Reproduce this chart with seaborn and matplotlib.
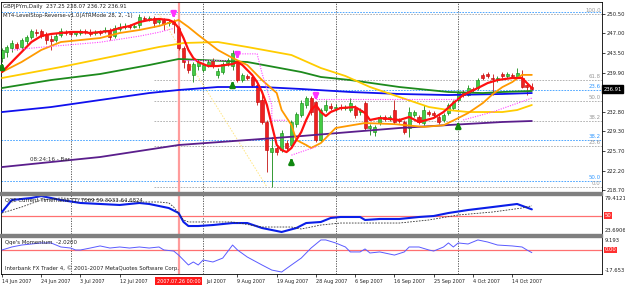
import matplotlib
matplotlib.use('Agg')
import matplotlib.pyplot as plt
import matplotlib.transforms as mtransforms
from matplotlib.patches import Rectangle
import pandas as pd
import seaborn as sns

sns.set_theme(style='white')
plt.rcParams['font.family'] = ['DejaVu Sans']

# ---- OHLC (GBPJPYm, Daily), bars 0..108 ----
opens = [242.55, 243.63, 244.36, 245.08, 244.54, 245.62, 246.34, 247.25, 247.43, 246.71,
         245.98, 245.80, 246.71, 247.25, 247.07, 246.89, 247.07, 247.43, 247.25, 247.07,
         247.25, 247.43, 247.61, 246.52, 247.79, 248.15, 248.33, 248.15, 248.51, 249.78,
         249.60, 249.78, 249.05, 249.42, 248.87, 249.24, 247.97, 244.36, 241.46, 239.48,
         241.10, 240.38, 241.28, 242.19, 239.48, 240.02, 241.65, 241.10, 241.83, 238.57,
         239.30, 239.12, 237.67, 234.96, 230.99, 225.56, 226.29, 225.93, 227.19, 226.83,
         230.62, 232.25, 234.06, 235.32, 234.60, 227.73, 233.15, 233.88, 233.51, 233.69,
         233.51, 233.15, 233.51, 232.79, 234.42, 229.90, 229.18, 230.80, 231.89, 231.53,
         233.15, 231.35, 230.99, 229.90, 232.25, 231.89, 230.80, 232.79, 232.61, 231.89,
         231.35, 232.61, 233.51, 234.96, 236.41, 235.86, 236.95, 237.13, 239.48, 239.66,
         238.94, 238.57, 239.66, 239.30, 239.48, 239.12, 238.94, 237.67, 237.25]
closes = [244.00, 244.54, 245.26, 244.36, 245.80, 246.34, 247.43, 247.07, 246.52, 245.80,
          245.62, 246.52, 247.43, 247.07, 246.89, 247.25, 247.43, 247.25, 246.89, 247.25,
          247.07, 247.61, 246.34, 247.97, 248.15, 248.33, 248.15, 248.33, 249.96, 249.60,
          249.78, 248.87, 249.42, 248.69, 249.05, 248.69, 244.36, 241.83, 240.38, 241.46,
          241.83, 241.28, 241.83, 241.10, 240.20, 241.46, 242.19, 243.45, 238.57, 239.48,
          238.94, 237.67, 234.60, 230.99, 225.93, 226.29, 225.56, 229.00, 226.29, 230.99,
          232.43, 234.42, 235.32, 232.79, 227.73, 233.15, 234.06, 233.51, 233.69, 233.51,
          233.69, 234.42, 232.25, 233.15, 229.90, 230.26, 230.08, 231.89, 231.53, 231.89,
          230.99, 231.17, 229.18, 232.79, 232.79, 230.99, 233.15, 232.43, 232.25, 230.99,
          232.25, 234.06, 234.60, 236.41, 235.86, 237.13, 236.77, 238.57, 238.94, 239.30,
          238.75, 238.94, 239.30, 239.66, 239.30, 239.84, 237.31, 237.31, 236.91]
highs = [244.36, 244.90, 245.80, 245.44, 246.16, 246.71, 247.79, 247.79, 247.79, 247.25,
         246.71, 247.07, 247.97, 247.61, 247.43, 247.43, 247.79, 247.79, 247.79, 247.61,
         247.61, 248.15, 247.97, 248.51, 248.87, 248.87, 248.69, 248.69, 250.50, 250.14,
         250.14, 250.14, 249.78, 249.78, 249.42, 249.60, 248.33, 244.72, 242.19, 241.83,
         242.19, 241.65, 242.19, 242.55, 240.74, 241.83, 242.55, 244.00, 242.01, 239.84,
         239.66, 239.48, 238.03, 236.41, 231.35, 228.27, 226.83, 229.54, 227.73, 231.35,
         232.79, 234.96, 235.68, 235.68, 234.78, 233.51, 234.96, 234.42, 234.24, 234.24,
         234.06, 235.32, 234.06, 233.51, 234.78, 230.62, 230.44, 232.25, 232.25, 232.25,
         234.96, 231.71, 231.35, 233.69, 233.15, 232.25, 234.06, 233.15, 232.97, 232.43,
         232.61, 234.42, 234.96, 236.77, 236.77, 237.67, 237.31, 238.94, 239.84, 240.02,
         239.66, 239.30, 240.02, 240.02, 239.84, 240.74, 240.38, 238.03, 238.07]
lows = [241.83, 242.73, 243.63, 244.00, 244.18, 245.08, 245.98, 246.52, 246.16, 245.08,
        244.00, 245.44, 246.34, 246.71, 246.52, 246.52, 246.71, 246.89, 246.52, 246.71,
        246.71, 247.07, 245.80, 246.16, 247.43, 247.79, 247.79, 247.97, 247.97, 249.24,
        249.24, 248.15, 248.69, 247.61, 248.33, 247.07, 244.00, 240.74, 239.84, 238.21,
        240.38, 240.02, 240.92, 240.74, 238.94, 239.66, 241.10, 240.38, 238.21, 238.21,
        238.57, 237.31, 234.06, 230.62, 221.95, 219.24, 225.02, 225.56, 225.93, 226.29,
        230.08, 231.89, 233.51, 232.25, 227.37, 227.37, 232.79, 233.15, 232.97, 233.15,
        233.15, 232.79, 231.71, 232.25, 229.54, 228.64, 228.45, 230.44, 231.17, 231.17,
        230.62, 230.80, 228.82, 228.27, 231.89, 230.62, 230.44, 232.07, 231.89, 230.62,
        230.99, 232.25, 233.15, 234.60, 235.50, 235.68, 236.41, 236.77, 238.57, 238.94,
        235.86, 238.21, 238.94, 238.94, 238.94, 238.94, 237.13, 235.86, 236.72]
bars = list(range(len(closes)))

# ---- indicator lines on the price panel (bar, price) ----
red_bar = [0, 2, 4, 6, 8, 10, 12, 14, 16, 18, 20, 22, 24, 26, 28, 30, 32, 34, 35, 36, 37, 38, 39,
           40, 42, 44, 47, 48, 49, 50, 51, 52, 53, 54, 55, 56, 57, 58, 59, 60, 61, 62, 63, 64,
           65, 66, 67, 69, 72, 74, 75, 77, 81, 83, 85, 88, 90, 92, 94, 97, 99, 101, 104, 106, 107, 108]
red_val = [240.02, 241.83, 243.63, 245.44, 246.53, 246.89, 247.07, 247.25, 247.25, 247.07,
           247.25, 247.43, 247.97, 248.33, 249.05, 249.42, 249.60, 249.42, 249.05, 247.97,
           246.16, 244.00, 242.55, 241.83, 241.10, 241.10, 241.46, 241.83, 241.28, 240.38,
           239.48, 238.21, 236.41, 234.06, 230.44, 226.83, 225.92, 225.56, 226.29, 227.73,
           229.18, 231.35, 233.15, 234.06, 232.79, 232.07, 232.79, 233.51, 233.69, 232.61,
           231.35, 231.71, 231.35, 231.89, 230.99, 231.71, 232.79, 234.42, 235.86, 237.13,
           238.03, 238.57, 238.94, 238.94, 238.03, 237.13]
orange_bar = [0, 4, 8, 12, 16, 20, 24, 28, 32, 36, 38, 40, 44, 47, 50, 53, 56, 57, 59, 60, 62,
              63, 65, 68, 74, 80, 86, 90, 93, 95, 98, 100, 102, 104, 106, 108]
orange_val = [240.02, 241.83, 244.00, 245.44, 245.80, 246.16, 247.07, 247.61, 248.33, 249.42,
              248.15, 246.71, 244.00, 242.55, 241.28, 238.57, 236.22, 233.15, 230.44, 227.73,
              226.83, 226.29, 227.19, 229.90, 230.80, 230.60, 230.10, 230.40, 231.70, 232.60,
              234.40, 236.00, 237.30, 238.20, 239.50, 239.50]
yellow_bar = [0, 12, 24, 32, 37, 44, 50, 59, 65, 70, 75, 81, 87, 91, 95, 102, 105, 108]
yellow_val = [238.94, 240.92, 243.09, 244.54, 245.26, 245.44, 244.54, 243.09, 240.74, 239.30,
              237.31, 235.50, 233.70, 233.15, 232.79, 232.79, 233.15, 234.06]
green_bar = [0, 10, 20, 30, 36, 50, 61, 65, 71, 81, 91, 98, 102, 108]
green_val = [237.13, 238.57, 239.66, 241.28, 242.37, 241.83, 240.02, 239.12, 238.57, 237.31,
             236.41, 236.22, 236.41, 236.59]
blue_bar = [0, 10, 20, 30, 36, 44, 53, 61, 71, 81, 91, 102, 108]
blue_val = [232.79, 233.69, 234.96, 236.22, 236.77, 237.31, 237.31, 236.95, 236.41, 236.05,
            235.86, 236.05, 236.22]
purple_bar = [0, 20, 36, 50, 61, 71, 81, 91, 102, 108]
purple_val = [222.85, 224.66, 226.83, 227.73, 228.45, 229.18, 229.90, 230.44, 230.99, 231.17]

# LevelStop-Reverse (dotted), one list per leg
stop_legs = [
    ([2, 8, 20, 28, 32, 35], [244.00, 244.50, 245.40, 246.50, 247.20, 247.90]),
    ([37, 42, 46], [242.20, 242.20, 242.20]),
    ([48, 52, 53, 55, 55, 58], [243.30, 243.30, 239.80, 234.00, 231.30, 231.30]),
    ([59, 64], [225.00, 226.50]),
    ([64, 93], [235.14, 235.14]),
    ([94, 100, 108], [231.35, 232.80, 235.30]),
]
sell_bars = [35, 48, 64]
sell_prices = [250.14, 242.73, 235.32]
buy_bars = [0, 47, 59, 93]
buy_prices = [241.28, 238.03, 224.12, 230.62]

# Fibonacci levels
fib_grey_levels = [250.50, 238.56, 234.87, 231.18, 226.62, 219.24]
fib_grey_labels = ['100.0', '61.8', '50.0', '38.2', '23.6', '0.0']
fib_blue_levels = [250.86, 236.77, 227.73, 220.32]
fib_blue_labels = ['', '23.6', '38.2', '50.0']
fib_start_bar = 31
fib_trend_bars = [32, 54]
fib_trend_prices = [250.50, 219.24]

# ---- QQE panel ----
qqe_bar = [0, 2, 6, 8, 10, 12, 16, 20, 24, 28, 30, 34, 36, 37, 38, 40, 43, 47, 50, 53, 57, 60,
           62, 65, 67, 69, 73, 74, 77, 81, 85, 88, 91, 95, 100, 105, 108]
qqe_val = [55.3, 73.4, 76.4, 79.4, 76.4, 73.4, 68.9, 67.4, 65.9, 68.9, 67.4, 61.3, 53.8, 40.3,
           34.2, 34.2, 35.7, 38.7, 38.7, 31.2, 25.2, 31.2, 38.7, 40.3, 46.3, 47.8, 47.8, 43.3,
           44.8, 44.8, 47.8, 49.3, 53.8, 58.3, 62.8, 67.4, 59.3]
qqe_sig_bar = [0, 4, 8, 12, 20, 28, 32, 34, 35, 37, 38, 47, 53, 59, 61, 65, 69, 81, 87, 93,
               100, 106, 108]
qqe_sig_val = [53.8, 62.8, 73.4, 76.4, 73.4, 70.4, 70.4, 68.9, 62.8, 43.3, 40.3, 40.3, 32.7,
               32.7, 29.7, 35.7, 38.7, 38.7, 43.3, 50.8, 55.3, 61.3, 64.7]

# ---- Qqe's Momentum panel ----
mom_bar = [0, 2, 4, 8, 10, 12, 14, 15, 16, 18, 20, 22, 24, 26, 28, 30, 32, 33, 35, 36, 38, 39,
           40, 41, 43, 45, 47, 48, 50, 53, 55, 57, 59, 61, 63, 65, 66, 68, 70, 71, 73, 74, 75,
           77, 80, 82, 83, 85, 87, 88, 90, 91, 92, 93, 95, 97, 99, 101, 104, 106, 107, 108]
mom_val = [0.0, 2.3, 3.8, 5.4, 5.4, 2.3, 1.5, 0.0, 0.0, 1.5, 3.1, 1.5, 2.3, 1.5, 2.3, 1.5, 2.3,
           0.0, -0.8, -3.9, -11.5, -9.2, -11.5, -7.7, -9.2, -6.2, 3.8, 0.0, -5.4, -11.5, -15.4,
           -16.9, -11.5, -6.2, 1.5, 7.7, 7.7, 5.4, 2.3, -1.5, -1.5, 0.8, -2.3, -1.5, -3.9, -1.5,
           2.3, 2.3, 0.0, -0.8, 2.3, 5.4, 2.3, 5.4, 4.6, 7.7, 6.1, 3.8, 3.1, 2.3, 0.0, -2.02]

# ---- axis labels ----
price_ticks = [250.50, 247.00, 243.50, 239.90, 236.40, 232.80, 229.30, 225.70, 222.20, 218.70]
price_labels = ['250.50', '247.00', '243.50', '239.90', '', '232.80', '229.30', '225.70',
                '222.20', '218.70']
date_bars = [0, 8, 16, 24, 48, 56, 64, 72, 80, 88, 96, 104]
date_labels = ['14 Jun 2007', '24 Jun 2007', '3 Jul 2007', '12 Jul 2007',
               '9 Aug 2007', '19 Aug 2007', '28 Aug 2007', '6 Sep 2007',
               '16 Sep 2007', '25 Sep 2007', '4 Oct 2007', '14 Oct 2007']
hidden_date_bar = 40
hidden_date_text = 'Jul 2007'
month_bars = [14, 41, 68, 93]
cursor_bar = 36

# ---------------- figure ----------------
W, H = 625, 285
fig = plt.figure(figsize=(W / 100, H / 100), dpi=100)
fig.patch.set_facecolor('white')


def box(x0, y0, x1, y1):
    return [x0 / W, 1 - y1 / H, (x1 - x0) / W, (y1 - y0) / H]


ax = fig.add_axes(box(1, 2, 602, 192))
axq = fig.add_axes(box(1, 195, 602, 234))
axm = fig.add_axes(box(1, 237, 602, 274))
XL = (-0.2, 122.3)
FS = 3.9
TXT = '#222222'

for a in (ax, axq, axm):
    a.set_facecolor('white')
    a.set_xlim(*XL)
    for s in a.spines.values():
        s.set_color('black')
        s.set_linewidth(0.6)
    a.set_xticks([])
    a.set_yticks([])
    for b in month_bars:
        a.axvline(b, color='#444444', lw=0.6, ls=(0, (1.5, 1.5)), zorder=1)
    a.axvline(cursor_bar, color='#ff9c9c', lw=1.6, zorder=1.2)

ax.set_ylim(218.34, 252.67)
axq.set_ylim(22.18, 80.92)
axm.set_ylim(-18.42, 9.96)

# separators between panels
for y0 in (192, 234):
    fig.patches.append(Rectangle((0, 1 - (y0 + 3) / H), 602 / W, 3 / H,
                                 transform=fig.transFigure, color='#808080', zorder=5))

# fibonacci
for lv in fib_blue_levels:
    ax.axhline(lv, color='#3399ff', lw=0.6, ls=(0, (2, 1.5)), zorder=1)
for lv in fib_grey_levels:
    ax.plot([fib_start_bar, XL[1]], [lv, lv], color='#a8a8a8', lw=0.6, ls=(0, (2, 1.5)), zorder=1)
ax.plot(fib_trend_bars, fib_trend_prices, color='#ffe680', lw=0.7, ls=(0, (1.5, 1.5)), zorder=1)
tr = mtransforms.blended_transform_factory(ax.transAxes, ax.transData)
for lv, lb in zip(fib_grey_levels, fib_grey_labels):
    ax.text(0.998, lv + 0.15, lb, transform=tr, ha='right', va='bottom', fontsize=FS, color='#999999')
for lv, lb in zip(fib_blue_levels, fib_blue_labels):
    ax.text(0.998, lv + 0.15, lb, transform=tr, ha='right', va='bottom', fontsize=FS, color='#3399ff')

# candles
for b, o, c, h, l in zip(bars, opens, closes, highs, lows):
    up = c >= o
    ax.vlines(b, l, h, color='#339933' if up else '#cc3333', lw=0.7, zorder=2)
    ax.bar(b, max(abs(c - o), 0.15), bottom=min(o, c), width=0.62,
           color='#44cc44' if up else '#ee2020', edgecolor='#118811' if up else '#bb0000',
           lw=0.4, zorder=2.1)

# moving averages via seaborn
lines = [
    (purple_bar, purple_val, '#5a1e8c', 1.3),
    (blue_bar, blue_val, '#1010ee', 1.3),
    (green_bar, green_val, '#1d8a1d', 1.3),
    (yellow_bar, yellow_val, '#ffcc00', 1.3),
    (orange_bar, orange_val, '#ff9a00', 1.3),
    (red_bar, red_val, '#ff1010', 1.6),
]
for xs, ys, col, lw in lines:
    df = pd.DataFrame({'bar': xs, 'price': ys})
    sns.lineplot(data=df, x='bar', y='price', ax=ax, color=col, lw=lw, sort=False,
                 estimator=None, legend=False, zorder=3)
for xs, ys in stop_legs:
    ax.plot(xs, ys, color='#ff44ff', lw=0.8, ls=(0, (1, 1.2)), zorder=3)

for b, p in zip(sell_bars, sell_prices):
    ax.annotate('', xy=(b, p - 0.9), xytext=(b, p + 0.9),
                arrowprops=dict(arrowstyle='-|>', color='#ff33ff', lw=2.0, mutation_scale=7), zorder=4)
for b, p in zip(buy_bars, buy_prices):
    ax.annotate('', xy=(b, p + 0.9), xytext=(b, p - 0.9),
                arrowprops=dict(arrowstyle='-|>', color='#118811', lw=2.0, mutation_scale=7), zorder=4)

ax.set_xlabel('')
ax.set_ylabel('')
ax.text(0.004, 0.988, 'GBPJPYm,Daily  237.25 238.07 236.72 236.91', transform=ax.transAxes,
        ha='left', va='top', fontsize=FS, color=TXT)
ax.text(0.004, 0.943, 'MT4-LevelStop-Reverse-v1.0(ATRMode 28, 2, -1)', transform=ax.transAxes,
        ha='left', va='top', fontsize=FS, color=TXT)
ax.text(5.8, 224.3, '08:24:16 - Bar', ha='left', va='center', fontsize=FS + 0.2, color='#333333')

# price scale
ax.yaxis.tick_right()
ax.set_yticks(price_ticks)
ax.set_yticklabels(price_labels, fontsize=FS - 0.1, color=TXT)
ax.tick_params(axis='y', right=True, length=2, width=0.6, pad=1, colors=TXT)
ax.text(1.003, 236.91, '236.91', transform=tr, ha='left', va='center', fontsize=FS - 0.1,
        color='white', bbox=dict(boxstyle='square,pad=0.25', fc='black', ec='black'),
        zorder=6, clip_on=False)

# QQE panel
dfq = pd.DataFrame({'bar': qqe_bar, 'v': qqe_val})
sns.lineplot(data=dfq, x='bar', y='v', ax=axq, color='#0a1ee8', lw=1.5, sort=False,
             estimator=None, legend=False, zorder=3)
axq.plot(qqe_sig_bar, qqe_sig_val, color='#333333', lw=0.6, ls=(0, (2, 1.5)), zorder=3)
axq.axhline(50, color='#ff7070', lw=0.9, zorder=2)
axq.set_xlabel('')
axq.set_ylabel('')
axq.text(0.006, 0.93, 'QQE Current Timeframe (1) 7069 59.3033 64.6824', transform=axq.transAxes,
         ha='left', va='top', fontsize=FS, color=TXT)
trq = mtransforms.blended_transform_factory(axq.transAxes, axq.transData)
axq.text(1.004, 79.41, '79.4121', transform=trq, ha='left', va='top', fontsize=FS - 0.1, color=TXT, clip_on=False)
axq.text(1.004, 23.69, '23.6906', transform=trq, ha='left', va='bottom', fontsize=FS - 0.1, color=TXT, clip_on=False)
axq.text(1.004, 50, '50', transform=trq, ha='left', va='center', fontsize=FS - 0.1, color='white',
         bbox=dict(boxstyle='square,pad=0.15', fc='#ff3030', ec='none'), clip_on=False)

# Momentum panel
dfm = pd.DataFrame({'bar': mom_bar, 'v': mom_val})
sns.lineplot(data=dfm, x='bar', y='v', ax=axm, color='#5a5aff', lw=0.7, sort=False,
             estimator=None, legend=False, zorder=3)
axm.axhline(0, color='#ff7070', lw=0.9, zorder=2)
axm.set_ylabel('')
axm.text(0.006, 0.93, "Qqe's Momentum  -2.0200", transform=axm.transAxes,
         ha='left', va='top', fontsize=FS, color=TXT)
axm.text(0.006, 0.08, 'Interbank FX Trader 4, \u00a9 2001-2007 MetaQuotes Software Corp.',
         transform=axm.transAxes, ha='left', va='bottom', fontsize=FS, color=TXT)
trm = mtransforms.blended_transform_factory(axm.transAxes, axm.transData)
axm.text(1.004, 9.193, '9.193', transform=trm, ha='left', va='top', fontsize=FS - 0.1, color=TXT, clip_on=False)
axm.text(1.004, -17.653, '-17.653', transform=trm, ha='left', va='bottom', fontsize=FS - 0.1, color=TXT, clip_on=False)
axm.text(1.004, 0, '0.00', transform=trm, ha='left', va='center', fontsize=FS - 0.1, color='white',
         bbox=dict(boxstyle='square,pad=0.15', fc='#ff3030', ec='none'), clip_on=False)

# date scale
axm.set_xticks(date_bars)
axm.set_xticklabels(date_labels, fontsize=FS - 0.4, color=TXT, ha='left')
axm.tick_params(axis='x', bottom=True, length=2, width=0.6, pad=1.8)
axm.set_xlabel('')
axm.annotate(hidden_date_text, xy=(hidden_date_bar, 0), xycoords=('data', 'axes fraction'),
             xytext=(5.5, -5.2), textcoords='offset points', ha='left', va='center',
             fontsize=FS - 0.4, color=TXT, annotation_clip=False)
axm.annotate('2007.07.26 00:00', xy=(cursor_bar, 0), xycoords=('data', 'axes fraction'),
             xytext=(0, -5.2), textcoords='offset points', ha='center', va='center',
             fontsize=FS - 0.4, color='white', annotation_clip=False, zorder=10,
             bbox=dict(boxstyle='square,pad=0.35', fc='#ff1a1a', ec='none'))

fig.savefig('out.png', dpi=100, facecolor='white')
